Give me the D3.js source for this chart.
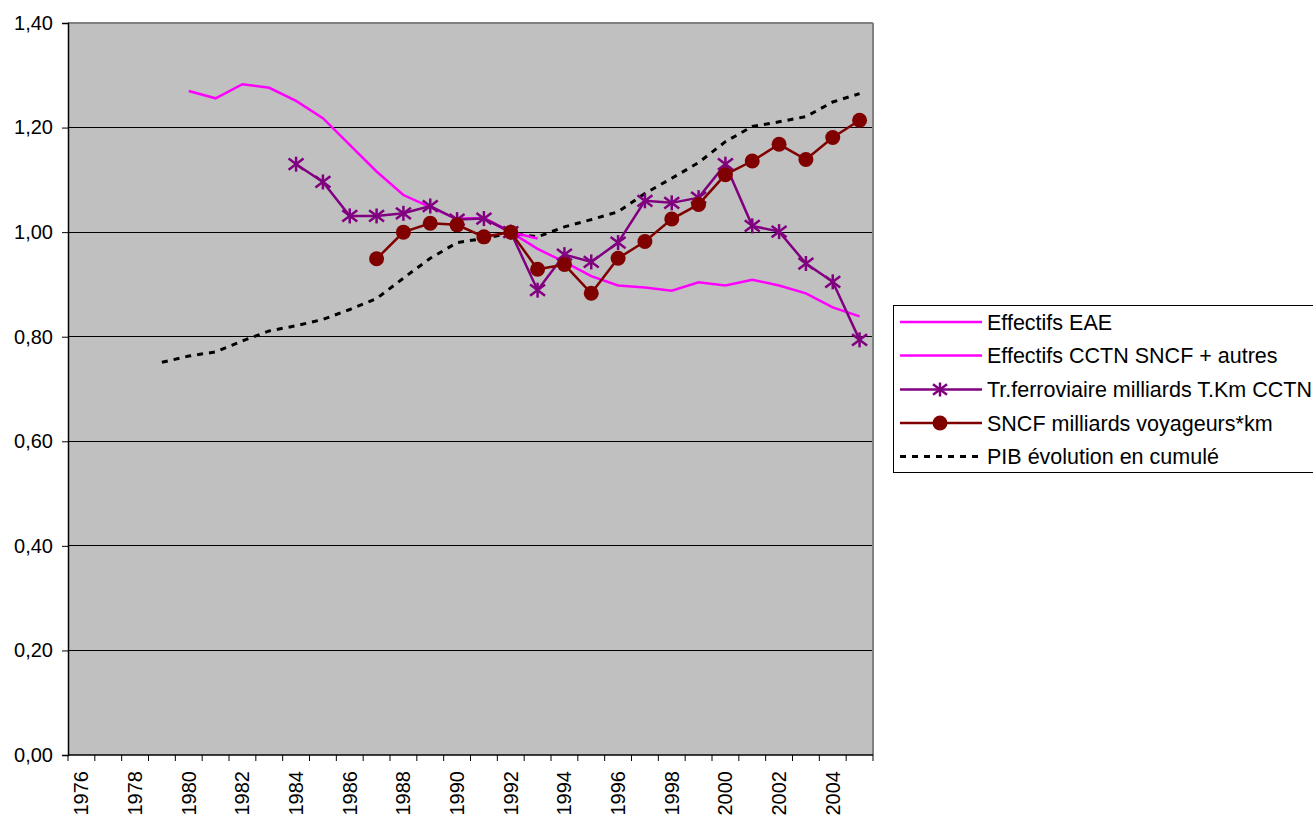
<!DOCTYPE html>
<html>
<head>
<meta charset="utf-8">
<script src="https://cdn.jsdelivr.net/npm/d3@7"></script>
<style>
  html, body { margin: 0; padding: 0; background: #ffffff; }
  svg { display: block; font-family: "Liberation Sans", Arial, sans-serif; }
</style>
</head>
<body>
<svg id="chart" width="1313" height="816"></svg>
<script>
// ---- Data ----
const years = ["1976","1977","1978","1979","1980","1981","1982","1983","1984","1985",
               "1986","1987","1988","1989","1990","1991","1992","1993","1994","1995",
               "1996","1997","1998","1999","2000","2001","2002","2003","2004","2005"];
const yTicks = [0, 0.2, 0.4, 0.6, 0.8, 1.0, 1.2, 1.4];

// Effectifs EAE (1980-1993)
const effectifsEAE = [null, null, null, null, 1.270, 1.256, 1.283, 1.276, 1.251, 1.218,
                      1.167, 1.116, 1.071, 1.048, 1.025, 1.027, 1.000, 0.988, null, null,
                      null, null, null, null, null, null, null, null, null, null];
// Effectifs CCTN SNCF + autres (1990-2005)
const effectifsCCTN = [null, null, null, null, null, null, null, null, null, null,
                       null, null, null, null, 1.025, 1.027, 1.000, 0.968, 0.943, 0.916,
                       0.898, 0.894, 0.888, 0.904, 0.898, 0.909, 0.898, 0.883, 0.856, 0.839];
// Tr.ferroviaire milliards T.Km CCTN
const trFerro = [null, null, null, null, null, null, null, null, 1.130, 1.096,
                 1.031, 1.031, 1.036, 1.050, 1.024, 1.026, 1.000, 0.889, 0.957, 0.943,
                 0.980, 1.060, 1.056, 1.066, 1.130, 1.012, 1.001, 0.940, 0.905, 0.794];
// SNCF milliards voyageurs*km
const sncfVoy = [null, null, null, null, null, null, null, null, null, null,
                 null, 0.949, 1.000, 1.017, 1.014, 0.991, 1.000, 0.929, 0.938, 0.883,
                 0.950, 0.982, 1.025, 1.053, 1.110, 1.136, 1.168, 1.139, 1.181, 1.214];
// PIB évolution en cumulé
const pib = [null, null, null, 0.751, 0.763, 0.771, 0.792, 0.811, 0.821, 0.833,
             0.852, 0.873, 0.912, 0.950, 0.980, 0.988, 0.998, 0.991, 1.010, 1.024,
             1.039, 1.074, 1.103, 1.133, 1.173, 1.202, 1.211, 1.221, 1.249, 1.265];

const seriesNames = ["Effectifs EAE", "Effectifs CCTN SNCF + autres",
                     "Tr.ferroviaire milliards T.Km CCTN", "SNCF milliards voyageurs*km",
                     "PIB évolution en cumulé"];

// ---- Layout ----
const svg = d3.select("#chart");
const plot = { left: 68, top: 23, right: 873, bottom: 755 };

const x = d3.scaleBand().domain(years).range([plot.left, plot.right]).padding(0);
const y = d3.scaleLinear().domain([0, 1.4]).range([plot.bottom, plot.top]);
const cx = d => x(d) + x.bandwidth() / 2;

// Background
svg.append("rect")
  .attr("x", plot.left).attr("y", plot.top)
  .attr("width", plot.right - plot.left).attr("height", plot.bottom - plot.top)
  .attr("fill", "#c0c0c0");

// Gridlines
svg.append("g").selectAll("line")
  .data(yTicks.filter(t => t > 0 && t < 1.4))
  .join("line")
  .attr("x1", plot.left).attr("x2", plot.right)
  .attr("y1", d => y(d)).attr("y2", d => y(d))
  .attr("stroke", "#000").attr("stroke-width", 1).attr("shape-rendering", "crispEdges");

// Top & right border (gray)
svg.append("line").attr("x1", plot.left).attr("x2", plot.right)
  .attr("y1", plot.top).attr("y2", plot.top)
  .attr("stroke", "#808080").attr("stroke-width", 2);
svg.append("line").attr("x1", plot.right).attr("x2", plot.right)
  .attr("y1", plot.top).attr("y2", plot.bottom)
  .attr("stroke", "#808080").attr("stroke-width", 2);

// Y axis
const yAxis = d3.axisLeft(y).tickValues(yTicks)
  .tickFormat(d => d.toFixed(2).replace(".", ","))
  .tickSize(6).tickPadding(9);
const gy = svg.append("g").attr("transform", `translate(${plot.left},0)`).call(yAxis);
gy.select(".domain").attr("stroke", "#000").attr("stroke-width", 1.5);
gy.selectAll(".tick line").attr("stroke", "#000");
gy.selectAll(".tick text").attr("font-size", 20).attr("fill", "#000")
  .attr("font-family", "'Liberation Sans', Arial, sans-serif");

// X axis line
svg.append("line").attr("x1", plot.left).attr("x2", plot.right)
  .attr("y1", plot.bottom).attr("y2", plot.bottom)
  .attr("stroke", "#000").attr("stroke-width", 1.5);

// X tick marks at category boundaries
const boundaries = years.map(d => x(d)).concat([x(years[years.length - 1]) + x.bandwidth()]);
svg.append("g").selectAll("line").data(boundaries).join("line")
  .attr("x1", d => d).attr("x2", d => d)
  .attr("y1", plot.bottom).attr("y2", plot.bottom + 6)
  .attr("stroke", "#000").attr("stroke-width", 1);

// X labels (every 2 years), rotated
svg.append("g").selectAll("text")
  .data(years.filter((d, i) => i % 2 === 0))
  .join("text")
  .attr("transform", d => `translate(${cx(d) + 7},${plot.bottom + 16}) rotate(-90)`)
  .attr("text-anchor", "end")
  .attr("font-size", 20)
  .attr("fill", "#000")
  .text(d => d);

// ---- Series ----
function series(arr) {
  return years.map((yr, i) => ({ yr, v: arr[i] })).filter(d => d.v !== null);
}
const line = d3.line().x(d => cx(d.yr)).y(d => y(d.v));

// PIB dashed
svg.append("path").datum(series(pib))
  .attr("d", line).attr("fill", "none")
  .attr("stroke", "#000").attr("stroke-width", 3)
  .attr("stroke-dasharray", "6,6");

// Effectifs EAE
svg.append("path").datum(series(effectifsEAE))
  .attr("d", line).attr("fill", "none")
  .attr("stroke", "#ff00ff").attr("stroke-width", 2.5);
// Effectifs CCTN
svg.append("path").datum(series(effectifsCCTN))
  .attr("d", line).attr("fill", "none")
  .attr("stroke", "#ff00ff").attr("stroke-width", 2.5);

// Star marker helper
function star(g, px, py, r, color) {
  const s = g.append("g").attr("transform", `translate(${px},${py})`)
    .attr("stroke", color).attr("stroke-width", 2.5);
  s.append("line").attr("x1", 0).attr("x2", 0).attr("y1", -r).attr("y2", r);
  s.append("line").attr("x1", -r).attr("x2", r).attr("y1", -r * 0.75).attr("y2", r * 0.75);
  s.append("line").attr("x1", -r).attr("x2", r).attr("y1", r * 0.75).attr("y2", -r * 0.75);
}

// Tr.ferroviaire
const trData = series(trFerro);
svg.append("path").datum(trData)
  .attr("d", line).attr("fill", "none")
  .attr("stroke", "#800080").attr("stroke-width", 2.5);
const gStars = svg.append("g");
trData.forEach(d => star(gStars, cx(d.yr), y(d.v), 7.5, "#800080"));

// SNCF voyageurs
const sncfData = series(sncfVoy);
svg.append("path").datum(sncfData)
  .attr("d", line).attr("fill", "none")
  .attr("stroke", "#800000").attr("stroke-width", 2.5);
svg.append("g").selectAll("circle").data(sncfData).join("circle")
  .attr("cx", d => cx(d.yr)).attr("cy", d => y(d.v)).attr("r", 7.5)
  .attr("fill", "#800000");

// ---- Legend ----
const lg = svg.append("g");
lg.append("rect").attr("x", 893.5).attr("y", 305.5).attr("width", 430).attr("height", 167)
  .attr("fill", "#fff").attr("stroke", "#000").attr("stroke-width", 1);
const legY = [322, 355.5, 389.5, 423, 456.5];
const legStyles = [
  { color: "#ff00ff", dash: null, marker: null },
  { color: "#ff00ff", dash: null, marker: null },
  { color: "#800080", dash: null, marker: "star" },
  { color: "#800000", dash: null, marker: "circle" },
  { color: "#000", dash: "6,6", marker: null, width: 3 }
];
seriesNames.forEach((name, i) => {
  const st = legStyles[i];
  const yy = legY[i];
  lg.append("line").attr("x1", 900).attr("x2", 982).attr("y1", yy).attr("y2", yy)
    .attr("stroke", st.color).attr("stroke-width", st.width || 2.5)
    .attr("stroke-dasharray", st.dash);
  if (st.marker === "star") star(lg, 940, yy, 7, st.color);
  if (st.marker === "circle") lg.append("circle").attr("cx", 940).attr("cy", yy).attr("r", 7.5).attr("fill", st.color);
  lg.append("text").attr("x", 987).attr("y", yy).attr("dy", "0.36em")
    .attr("font-size", 21.5).attr("fill", "#000").text(name);
});
</script>
</body>
</html>
